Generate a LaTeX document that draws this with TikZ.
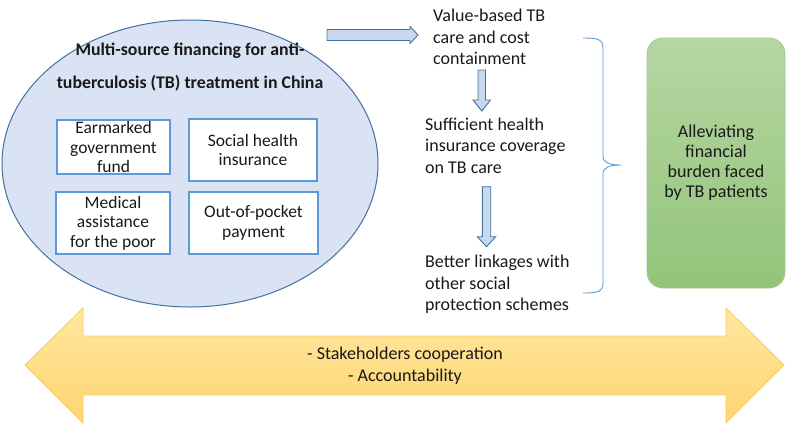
\documentclass[tikz,border=0pt]{standalone}
\usepackage{fontspec}
\setmainfont{Carlito}
\usetikzlibrary{shapes.geometric}
\definecolor{ellfill}{RGB}{218,227,243}
\definecolor{ellline}{RGB}{65,113,156}
\definecolor{boxline}{RGB}{91,155,213}
\definecolor{arrfill}{RGB}{200,217,238}
\definecolor{txt}{RGB}{25,25,25}
\definecolor{gtop}{RGB}{183,214,163}
\definecolor{gbot}{RGB}{146,196,122}
\definecolor{gline}{RGB}{160,200,140}
\definecolor{ytop}{RGB}{255,231,160}
\definecolor{ybot}{RGB}{255,213,112}
\definecolor{yline}{RGB}{250,205,100}
\tikzset{
  srcbox/.style={draw=boxline, fill=white, line width=1.3pt, inner sep=0pt, align=center,
    text=txt, font=\fontsize{17.5}{19.5}\selectfont},
  sidetext/.style={inner sep=0pt, align=left, anchor=west, text=txt,
    font=\fontsize{18}{21.5}\selectfont},
  blockarrow/.style={draw=ellline, fill=arrfill, line width=0.9pt, line join=miter},
}
\begin{document}
\begin{tikzpicture}[x=1pt,y=-1pt]
\useasboundingbox (0,0) rectangle (787,424);
% bottom double arrow
\shade[top color=ytop, bottom color=ybot, draw=yline, line width=0.8pt]
  (25,365) coordinate (dl) -- (83,308) -- (83,336) -- (726,336) -- (726,308)
  -- (784,365) coordinate (dr) -- (726,423) -- (726,395) -- (83,395) -- (83,423) -- cycle;
\node[align=center, inner sep=0pt, text=txt, font=\fontsize{18}{22}\selectfont] (acc) at (405,366)
  {- Stakeholders cooperation\\- Accountability};
% ellipse
\node[ellipse, draw=ellline, fill=ellfill, line width=1pt, inner sep=0pt,
  minimum width=376pt, minimum height=287pt] (fin) at (190,163.5) {};
\node[align=center, inner sep=0pt, text=txt, font=\fontsize{17.8}{33}\selectfont\bfseries] (title) at (190,67)
  {Multi-source financing for anti-\\tuberculosis (TB) treatment in China};
\node[srcbox, minimum width=113pt, minimum height=54pt] (b1) at (113.5,147) {Earmarked\\government\\fund};
\node[srcbox, minimum width=128pt, minimum height=62pt] (b2) at (253,150) {Social health\\insurance};
\node[srcbox, minimum width=114pt, minimum height=62pt] (b3) at (113,223) {Medical\\assistance\\for the poor};
\node[srcbox, minimum width=129pt, minimum height=62pt] (b4) at (253.5,223) {Out-of-pocket\\payment};
% right texts
\node[sidetext] (t1) at (433,37) {Value-based TB\\care and cost\\containment};
\node[sidetext] (t2) at (425,145.5) {Sufficient health\\insurance coverage\\on TB care};
\node[sidetext] (t3) at (425,284.5) {Better linkages with\\other social\\protection schemes};
% block arrows
\draw[blockarrow] (327,29.5) -- (410,29.5) -- (410,26.5) -- (418,35) -- (410,43.5) -- (410,40.5) -- (327,40.5) -- cycle;
\draw[blockarrow] (478,70) -- (485.5,70) -- (485.5,100) -- (490.5,100) -- (481.8,111) -- (473,100) -- (478,100) -- cycle;
\draw[blockarrow] (482.3,186.7) -- (490.7,186.7) -- (490.7,236.7) -- (495.7,236.7) -- (486.5,246.7) -- (477.3,236.7) -- (482.3,236.7) -- cycle;
% brace
\coordinate (bt) at (583,38);
\coordinate (bm) at (621,165);
\coordinate (bb) at (583,293);
\draw[boxline, line width=0.9pt]
  (bt) .. controls (597,38) and (603,39) .. (603,48) -- (603,156)
  .. controls (603,163) and (610,165) .. (bm)
  .. controls (610,165) and (603,167) .. (603,174) -- (603,283)
  .. controls (603,292) and (597,293) .. (bb);
% goal box
\node[draw=gline, top color=gtop, bottom color=gbot, rounded corners=16pt, line width=0.8pt,
  minimum width=138pt, minimum height=250pt, inner sep=0pt] (goal) at (716,163) {};
\node[align=center, inner sep=0pt, text=txt, font=\fontsize{18}{20}\selectfont] (goaltext) at (goal.center)
  {Alleviating\\financial\\burden faced\\by TB patients};
\end{tikzpicture}
\end{document}
